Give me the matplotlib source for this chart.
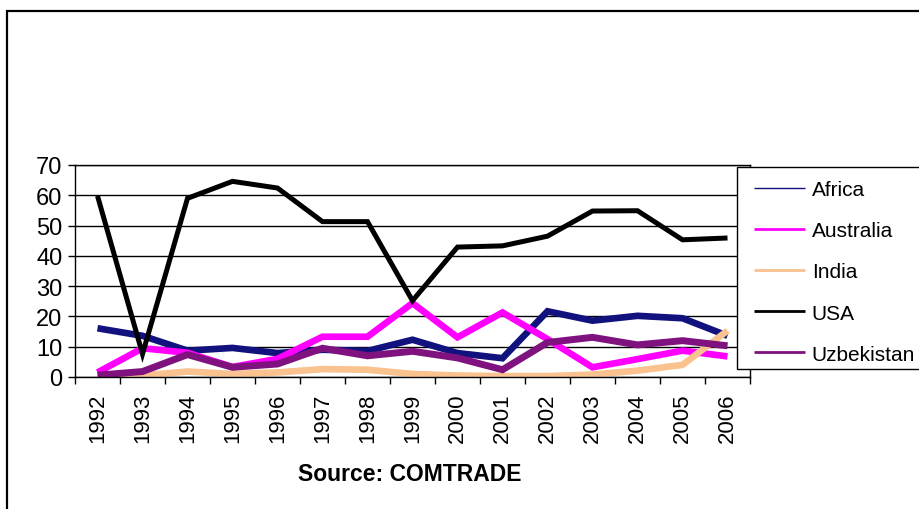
import matplotlib
matplotlib.use("Agg")
import matplotlib.pyplot as plt
from matplotlib.patches import Rectangle

years = ["1992", "1993", "1994", "1995", "1996", "1997", "1998", "1999",
         "2000", "2001", "2002", "2003", "2004", "2005", "2006"]
africa = [16.1, 13.6, 8.7, 9.6, 7.9, 9.0, 8.6, 12.3, 7.9, 6.2, 21.7, 18.6, 20.2, 19.4, 13.6]
australia = [1.5, 9.5, 8.0, 3.3, 6.0, 13.3, 13.3, 24.4, 13.1, 21.3, 12.5, 3.2, 5.9, 8.7, 6.8]
india = [0.3, 0.5, 1.8, 1.0, 1.5, 2.6, 2.4, 1.0, 0.5, 0.3, 0.3, 0.8, 2.1, 4.0, 15.3]
usa = [59.8, 7.6, 59.0, 64.6, 62.4, 51.3, 51.3, 25.2, 42.9, 43.3, 46.5, 54.8, 54.9, 45.3, 45.9]
uzbekistan = [0.6, 1.8, 7.4, 3.2, 4.3, 9.5, 7.0, 8.5, 6.3, 2.4, 11.4, 13.1, 10.6, 12.0, 10.3]

series = [
    ("Africa", africa, "#12127f", 4.8, 1.0),
    ("Australia", australia, "#ff00ff", 4.8, 2.0),
    ("India", india, "#f9c28e", 4.8, 2.0),
    ("USA", usa, "#000000", 3.6, 2.0),
    ("Uzbekistan", uzbekistan, "#7f127f", 5.0, 2.0),
]

plt.rcParams["font.family"] = ["Liberation Sans", "DejaVu Sans"]

W, H = 919, 510
fig = plt.figure(figsize=(W / 100, H / 100), dpi=100)

# outer frame
fig.patches.append(Rectangle((7 / W, -0.1), 1.2, (H - 12) / H + 0.1,
                             transform=fig.transFigure, fill=False,
                             edgecolor="black", linewidth=1.6))

ax = fig.add_axes([75 / W, 1 - 378 / H, (750 - 75) / W, (378 - 166) / H])
x = list(range(len(years)))
handles = []
for name, vals, color, lw, _ in series:
    h, = ax.plot(x, vals, color=color, linewidth=lw, label=name,
                 solid_joinstyle="miter", solid_capstyle="butt")
    handles.append(h)

ax.set_xlim(-0.5, len(years) - 0.5)
ax.set_ylim(0, 70)
ax.set_yticks(range(0, 71, 10))
ax.yaxis.grid(True, color="black", linewidth=1.0)
ax.set_axisbelow(True)
ax.set_xticks(x)
ax.set_xticklabels(years, rotation=90, fontsize=16)
ax.set_xticks([i - 0.5 for i in range(len(years) + 1)], minor=True)
ax.tick_params(axis="x", which="major", length=0, pad=11)
ax.tick_params(axis="x", which="minor", length=5, width=1, direction="out")
ax.tick_params(axis="y", length=5, width=1, pad=4, labelsize=17)
for s in ax.spines.values():
    s.set_linewidth(1.0)
    s.set_color("black")

# legend box and legend
fig.patches.append(Rectangle((737 / W, 1 - 370 / H), 0.3, (370 - 168) / H,
                             transform=fig.transFigure, facecolor="white",
                             edgecolor="black", linewidth=1.0, zorder=3))
leg = fig.legend(handles=handles, loc="upper left",
                 bbox_to_anchor=(746 / W, 1 - 173 / H),
                 frameon=False, fontsize=15, handlelength=2.45,
                 handletextpad=0.3, labelspacing=1.06, borderaxespad=0)
leg.set_zorder(5)
for line, (_, _, _, _, llw) in zip(leg.get_lines(), series):
    line.set_linewidth(llw)

fig.text(410 / W, 1 - 475 / H, "Source: COMTRADE", ha="center", va="center",
         fontsize=16.5, fontweight="bold")

fig.savefig("out.png", dpi=100)
